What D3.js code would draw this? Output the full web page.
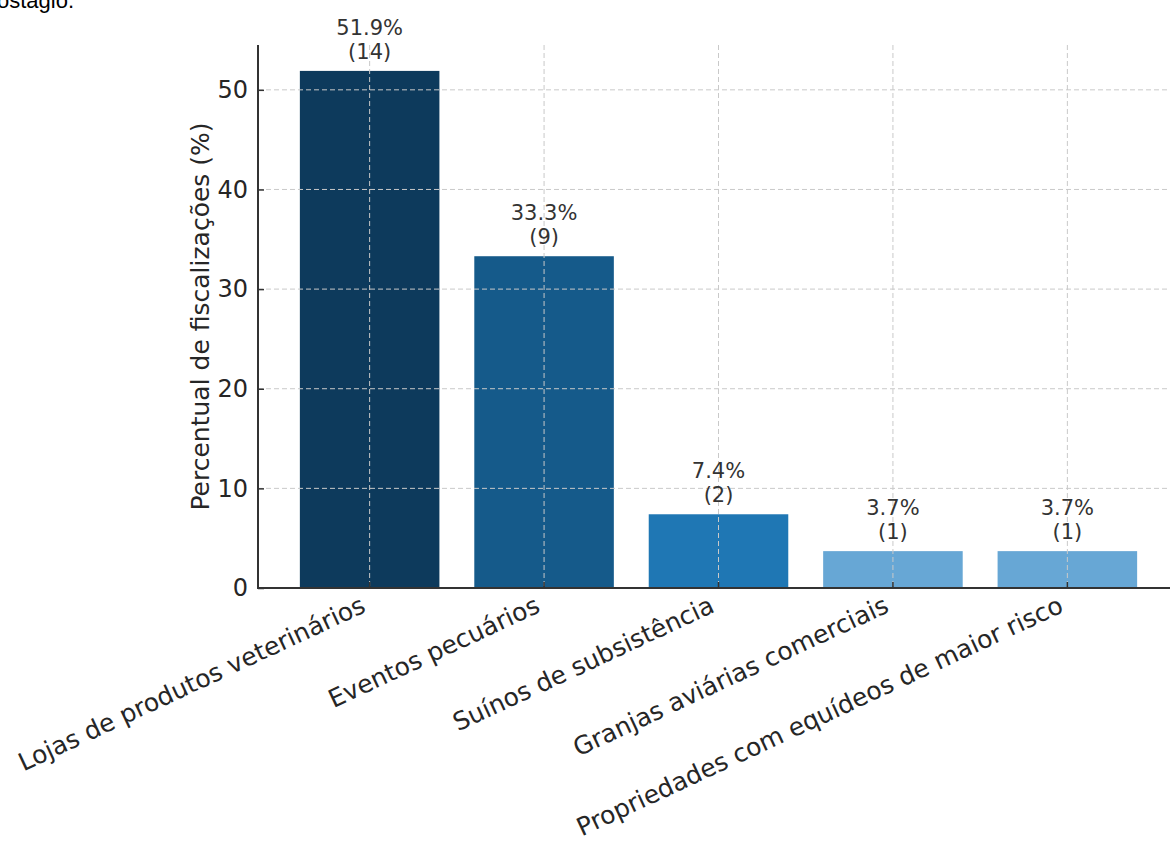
<!DOCTYPE html>
<html>
<head>
<meta charset="utf-8">
<script src="https://cdn.jsdelivr.net/npm/d3@7"></script>
<style>
  html, body { margin: 0; padding: 0; background: #fff; }
  svg { display: block; }
</style>
</head>
<body>
<svg id="chart" width="1170" height="846"></svg>
<script>
const categories = [
  "Lojas de produtos veterinários",
  "Eventos pecuários",
  "Suínos de subsistência",
  "Granjas aviárias comerciais",
  "Propriedades com equídeos de maior risco"
];
const percentages = [51.9, 33.3, 7.4, 3.7, 3.7];
const counts = [14, 9, 2, 1, 1];
const barColors = ["#0d3a5c", "#155a8a", "#1f77b4", "#67a7d5", "#67a7d5"];
const yTicks = [0, 10, 20, 30, 40, 50];
const yLabel = "Percentual de fiscalizações (%)";

const svg = d3.select("#chart");
const L = 258, R = 1179, T = 45, B = 588;

const x = d3.scaleBand().domain(categories).range([L, R]).paddingInner(0.2).paddingOuter(0.24);
const y = d3.scaleLinear().domain([0, 54.5]).range([B, T]);

// fragment of surrounding text at top-left
svg.append("text").attr("x", -3).attr("y", 8)
  .attr("font-family", "Liberation Sans, Arial, sans-serif").attr("font-size", 22)
  .attr("fill", "#000").text("ostagio.");

// bars
svg.append("g").selectAll("rect").data(categories).join("rect")
  .attr("x", d => x(d)).attr("width", x.bandwidth())
  .attr("y", (d, i) => y(percentages[i]))
  .attr("height", (d, i) => y(0) - y(percentages[i]))
  .attr("fill", (d, i) => barColors[i]);

// grid
const grid = svg.append("g").attr("stroke", "#c9c9c9").attr("stroke-width", 1).attr("stroke-dasharray", "5,3");
grid.selectAll("line.h").data(yTicks).join("line").attr("class", "h")
  .attr("x1", L).attr("x2", R).attr("y1", d => y(d)).attr("y2", d => y(d));
grid.selectAll("line.v").data(categories).join("line").attr("class", "v")
  .attr("x1", d => x(d) + x.bandwidth() / 2).attr("x2", d => x(d) + x.bandwidth() / 2)
  .attr("y1", T).attr("y2", B);

// y axis
const yAxis = svg.append("g").attr("transform", `translate(${L},0)`)
  .call(d3.axisLeft(y).tickValues(yTicks).tickSize(-6).tickPadding(10).tickFormat(d3.format("d")));
yAxis.select(".domain").remove();
yAxis.selectAll(".tick line").attr("stroke", "#333").attr("stroke-width", 1.5);
yAxis.selectAll(".tick text").attr("font-family", "DejaVu Sans").attr("font-size", 24).attr("fill", "#262626");

// x axis
const xAxis = svg.append("g").attr("transform", `translate(0,${B})`)
  .call(d3.axisBottom(x).tickSize(-6).tickPadding(0));
xAxis.select(".domain").remove();
xAxis.selectAll(".tick line").attr("stroke", "#333").attr("stroke-width", 1.5);
const ang = 25, rad = ang * Math.PI / 180, fs = 25;
xAxis.selectAll(".tick text")
  .attr("font-family", "DejaVu Sans").attr("font-size", fs).attr("fill", "#262626")
  .attr("text-anchor", "end").attr("dy", null)
  .attr("y", 0)
  .attr("transform", `translate(${-0.24 * fs * Math.sin(rad)},${6 + 0.76 * fs * Math.cos(rad)}) rotate(${-ang})`);

// spines
svg.append("line").attr("x1", L).attr("x2", L).attr("y1", T).attr("y2", B + 1)
  .attr("stroke", "#333").attr("stroke-width", 2);
svg.append("line").attr("x1", L - 1).attr("x2", R).attr("y1", B).attr("y2", B)
  .attr("stroke", "#333").attr("stroke-width", 2);

// y label
svg.append("text")
  .attr("transform", `translate(209,${(T + B) / 2}) rotate(-90)`)
  .attr("text-anchor", "middle")
  .attr("font-family", "DejaVu Sans").attr("font-size", 25).attr("fill", "#262626")
  .text(yLabel);

// value labels
const vl = svg.append("g").attr("font-family", "DejaVu Sans").attr("font-size", 21)
  .attr("fill", "#333").attr("text-anchor", "middle");
categories.forEach((c, i) => {
  const cx = x(c) + x.bandwidth() / 2;
  const top = y(percentages[i]);
  vl.append("text").attr("x", cx).attr("y", top - 36).text(percentages[i].toFixed(1) + "%");
  vl.append("text").attr("x", cx).attr("y", top - 12).text("(" + counts[i] + ")");
});
</script>
</body>
</html>
